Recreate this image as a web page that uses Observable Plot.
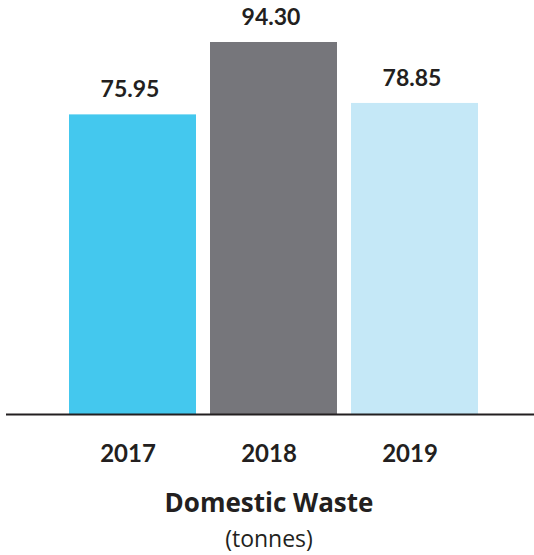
<!DOCTYPE html>
<html>
<head>
<meta charset="utf-8">
<script src="https://cdn.jsdelivr.net/npm/d3@7"></script>
<script src="https://cdn.jsdelivr.net/npm/@observablehq/plot@0.6"></script>
<style>
  body { margin: 0; background: #fff; width: 534px; height: 555px; position: relative; }
  #chart svg { display: block; }
  .title { position: absolute; left: 4px; width: 530px; top: 489px; text-align: center; font-family: "Open Sans", "Noto Sans", sans-serif; font-weight: 700; font-size: 26px; line-height: 26px; color: #231f20; }
  .unit { position: absolute; left: 4px; width: 530px; top: 526px; text-align: center; font-family: "Open Sans", "Noto Sans", sans-serif; font-weight: 400; font-size: 23px; line-height: 24px; color: #231f20; }
</style>
</head>
<body>
<div id="chart"></div>
<div class="title">Domestic Waste</div>
<div class="unit">(tonnes)</div>
<script>
const years = ["2017", "2018", "2019"];
const values = [75.95, 94.30, 78.85];
const colors = ["#44c8ee", "#76767b", "#c5e8f7"];

const data = years.map((y, i) => ({year: y, value: values[i], color: colors[i]}));

const chart = Plot.plot({
  width: 534,
  height: 475,
  marginLeft: 6,
  marginRight: 0,
  marginTop: 0,
  marginBottom: 61,
  style: {fontFamily: "Lato, sans-serif", color: "#231f20", background: "#fff"},
  x: {domain: years, range: [68, 479], paddingInner: 0.1, paddingOuter: 0, label: null},
  y: {domain: [0, 94.3], range: [414, 42], axis: null},
  marks: [
    Plot.barY(data, {x: "year", y: "value", fill: "color"}),
    Plot.ruleY([0], {stroke: "#231f20", strokeWidth: 2}),
    Plot.text(data, {x: "year", y: "value", text: d => d.value.toFixed(2), dy: -25, dx: -3, lineAnchor: "middle", fontSize: 23, fontWeight: 700, fill: "#231f20"}),
    Plot.axisX({tickSize: 0, tickPadding: 30, dx: -5, fontSize: 24, fontWeight: 700, label: null, fill: "#231f20"})
  ]
});
document.getElementById("chart").appendChild(chart);
</script>
</body>
</html>
